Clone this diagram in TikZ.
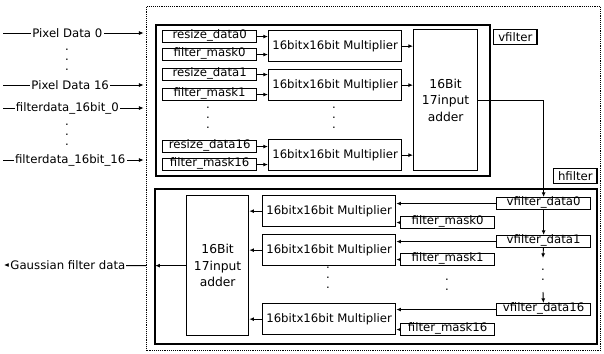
\documentclass[tikz,border=0pt]{standalone}
\usepackage{fontspec}
\setmainfont{DejaVu Sans}
\usetikzlibrary{positioning,arrows.meta,calc}

\begin{document}
\begin{tikzpicture}[x=0.03cm,y=-0.03cm,
  font=\fontsize{10}{12}\selectfont,
  frame/.style={draw,line width=1.4pt,anchor=north west,inner sep=0pt},
  tag/.style={draw,line width=1.2pt,anchor=north west,inner sep=0pt,minimum width=1.3cm,minimum height=0.44cm},
  sig/.style={draw,line width=1.1pt,anchor=north west,inner sep=0pt,minimum width=2.82cm,minimum height=0.35cm,text height=6.6pt,text depth=3.5pt},
  mul/.style={draw,line width=1.1pt,anchor=north west,inner sep=0pt,minimum width=3.99cm,minimum height=0.93cm},
  add/.style={draw,line width=1.1pt,anchor=north west,inner sep=0pt,align=center,font=\fontsize{10.5}{14}\selectfont},
  gapdots/.style={align=center,inner sep=0pt,font=\fontsize{10}{8.5}\selectfont},
  io/.style={fill=white,inner sep=1pt},
  ar/.style={-{Latex[length=1.4mm,width=1.2mm]},line width=0.8pt}]
\useasboundingbox (0,0) rectangle (604,353);
% outer dotted block
\node[frame,line width=1.1pt,dash pattern=on 0.8pt off 0.8pt,minimum width=13.62cm,minimum height=10.32cm] (top) at (146,6) {};
% vfilter
\node[frame,minimum width=10.02cm,minimum height=4.53cm] (vf) at (155,24) {};
\node[tag] (vtag) at (493,29) {vfilter};
\node[add,minimum width=1.92cm,minimum height=4.23cm] (va) at (413,29) {16Bit\\17input\\adder};
\node[sig] (rd0) at (162,30) {resize\_data0};
\node[sig] (fm0) at (162,48) {filter\_mask0};
\node[sig] (rd1) at (162,68) {resize\_data1};
\node[sig] (fm1) at (162,88) {filter\_mask1};
\node[sig] (rd16) at (162,140) {resize\_data16};
\node[sig] (fm16) at (162,158) {filter\_mask16};
\node[mul] (vm0) at (268,30) {16bitx16bit Multiplier};
\node[mul] (vm1) at (268,69) {16bitx16bit Multiplier};
\node[mul] (vm16) at (268,139) {16bitx16bit Multiplier};
\node[gapdots] (vdl) at (208,118) {.\\.\\.};
\node[gapdots] (vdm) at (334,118) {.\\.\\.};
\draw[ar] (rd0.east) -- (rd0.east -| vm0.west); \draw[ar] (fm0.east) -- (fm0.east -| vm0.west);
\draw[ar] (rd1.east) -- (rd1.east -| vm1.west); \draw[ar] (fm1.east) -- (fm1.east -| vm1.west);
\draw[ar] (rd16.east) -- (rd16.east -| vm16.west); \draw[ar] (fm16.east) -- (fm16.east -| vm16.west);
\draw[ar] (vm0.east) -- (vm0.east -| va.west); \draw[ar] (vm1.east) -- (vm1.east -| va.west);
\draw[ar] (vm16.east) -- (vm16.east -| va.west);
% hfilter
\node[frame,minimum width=13.26cm,minimum height=4.65cm] (hf) at (154,188) {};
\node[tag] (htag) at (553,168) {hfilter};
\node[add,minimum width=1.86cm,minimum height=4.2cm] (ha) at (186,195) {16Bit\\17input\\adder};
\node[mul] (hm0) at (262,195) {16bitx16bit Multiplier};
\node[mul] (hm1) at (262,234) {16bitx16bit Multiplier};
\node[mul] (hm16) at (262,303) {16bitx16bit Multiplier};
\node[sig] (vd0) at (496,197) {vfilter\_data0};
\node[sig] (vd1) at (496,235) {vfilter\_data1};
\node[sig] (vd16) at (496,303) {vfilter\_data16};
\node[sig] (hk0) at (400,216) {filter\_mask0};
\node[sig] (hk1) at (400,253) {filter\_mask1};
\node[sig] (hk16) at (400,323) {filter\_mask16};
\node[gapdots] (hdm) at (328,278) {.\\.\\.};
\node[gapdots] (hdk) at (447,285) {.\\.};
\node[gapdots] (hdv) at (543,275) {.\\.};
\coordinate (vgap1) at (543,258); \coordinate (vgap2) at (543,292);
\draw[ar] (va.east) -| (vd0.north);
\draw[ar] (vd0) -- (vd1); \draw[ar] (vd1) -- (vgap1); \draw[ar] (vgap2) -- (vd16);
\draw[ar] (vd0.west) -- (vd0.west -| hm0.east); \draw[ar] (hk0.west) -- (hk0.west -| hm0.east);
\draw[ar] (vd1.west) -- (vd1.west -| hm1.east); \draw[ar] (hk1.west) -- (hk1.west -| hm1.east);
\draw[ar] (vd16.west) -- (vd16.west -| hm16.east); \draw[ar] (hk16.west) -- (hk16.west -| hm16.east);
\draw[ar] (hm0.west) -- (hm0.west -| ha.east); \draw[ar] (hm1.west) -- (hm1.west -| ha.east);
\draw[ar] (hm16.west) -- (hm16.west -| ha.east);
\draw[ar,shorten >=1pt] (ha.west) -- (ha.west -| hf.west);
% inputs and output
\coordinate (p0) at (3,33); \coordinate (p16) at (3,85);
\coordinate (f0) at (3,108); \coordinate (f16) at (3,160);
\coordinate (gd) at (4,265);
\draw[ar,shorten >=2pt] (p0) -- node[io,pos=0.45] (p0t) {Pixel Data 0} (p0 -| top.west);
\draw[ar,shorten >=2pt] (p16) -- node[io,pos=0.47] (p16t) {Pixel Data 16} (p16 -| top.west);
\draw[ar,shorten >=2pt] (f0) -- node[io,pos=0.45] (f0t) {filterdata\_16bit\_0} (f0 -| top.west);
\draw[ar,shorten >=2pt] (f16) -- node[io,pos=0.47] (f16t) {filterdata\_16bit\_16} (f16 -| top.west);
\node[gapdots] (pd) at (67,60) {.\\.\\.};
\node[gapdots] (fd) at (67,135) {.\\.\\.};
\draw[ar] (ha.west -| top.west) -- node[io,pos=0.55] (gdt) {Gaussian filter data} (gd);
\end{tikzpicture}
\end{document}
